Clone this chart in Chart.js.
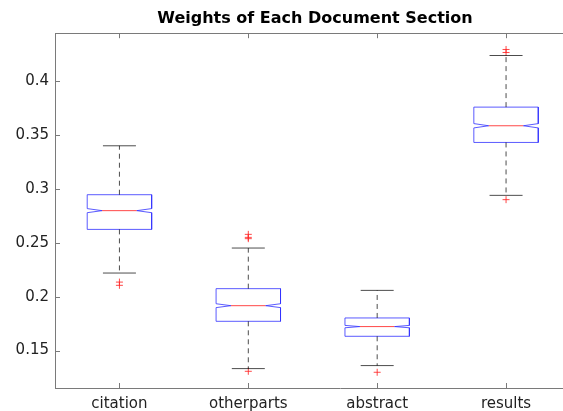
<!DOCTYPE html>
<html>
<head>
<meta charset="utf-8">
<script src="https://cdn.jsdelivr.net/npm/chart.js@4"></script>
<style>
  body { margin: 0; overflow: hidden; background: #fff; }
</style>
</head>
<body>
<canvas id="boxChart" width="630" height="411"></canvas>
<script>
// Box plot values
const categories = ["citation", "otherparts", "abstract", "results"];
const upperWhisker = [0.340, 0.2451, 0.2058, 0.4238];
const q3 = [0.2946, 0.2074, 0.1802, 0.3759];
const medians = [0.2798, 0.1916, 0.1722, 0.3586];
const q1 = [0.2624, 0.1771, 0.1632, 0.3431];
const lowerWhisker = [0.2219, 0.1332, 0.1360, 0.2940];
const notches = [0.0019, 0.0018, 0.0011, 0.0020];
const outliers = [
    [0.2135, 0.2105],
    [0.2578, 0.2550, 0.2538, 0.1307],
    [0.1298],
    [0.4294, 0.4266, 0.2900]
];
const yTicks = [0.15, 0.2, 0.25, 0.3, 0.35, 0.4];
const yTickLabels = ["0.15", "0.2", "0.25", "0.3", "0.35", "0.4"];

// shape of the boxes (in x units)
const boxHalf = 0.25;
const notchInner = 0.135;
const capHalf = 0.128;

const blue = "rgba(50,50,255,0.8)";
const red = "rgba(255,40,40,0.85)";
const whiskerColor = "rgba(0,0,0,0.7)";
const font = "'DejaVu Sans', sans-serif";

var datasets = [];

function segment(points, color, dash) {
    return {
        type: "scatter",
        data: points,
        showLine: true,
        borderColor: color,
        borderWidth: 1,
        borderDash: dash || [],
        pointRadius: 0,
        fill: false
    };
}

for (var i = 0; i < categories.length; i++) {
    let x = i + 1;
    let l = x - boxHalf, r = x + boxHalf;
    let m = medians[i], n = notches[i];

    // whiskers (dashed) and caps
    datasets.push(segment([{ x: x, y: q3[i] }, { x: x, y: upperWhisker[i] }], whiskerColor, [5, 4]));
    datasets.push(segment([{ x: x, y: q1[i] }, { x: x, y: lowerWhisker[i] }], whiskerColor, [5, 4]));
    datasets.push(segment([{ x: x - capHalf, y: upperWhisker[i] }, { x: x + capHalf, y: upperWhisker[i] }], whiskerColor));
    datasets.push(segment([{ x: x - capHalf, y: lowerWhisker[i] }, { x: x + capHalf, y: lowerWhisker[i] }], whiskerColor));

    // notched box outline
    datasets.push(segment([
        { x: l, y: q3[i] }, { x: r, y: q3[i] }, { x: r, y: m + n },
        { x: x + notchInner, y: m }, { x: r, y: m - n }, { x: r, y: q1[i] },
        { x: l, y: q1[i] }, { x: l, y: m - n }, { x: x - notchInner, y: m },
        { x: l, y: m + n }, { x: l, y: q3[i] }
    ], blue));

    // median
    datasets.push(segment([{ x: x - notchInner, y: m }, { x: x + notchInner, y: m }], red));
}

// outliers as red crosses
var outlierPoints = [];
outliers.forEach(function (list, i) {
    list.forEach(function (v) {
        outlierPoints.push({ x: i + 1, y: v });
    });
});
datasets.push({
    type: "scatter",
    data: outlierPoints,
    pointStyle: "cross",
    pointRadius: 3.5,
    borderColor: red,
    borderWidth: 1,
    backgroundColor: red
});

// top border and inward tick marks like the original
const frame = {
    id: "frame",
    afterDraw: function (chart) {
        let ctx = chart.ctx;
        let a = chart.chartArea;
        let xs = chart.scales.x, ys = chart.scales.y;
        ctx.save();
        ctx.strokeStyle = "#7a7a7a";
        ctx.lineWidth = 1;
        ctx.beginPath();
        ctx.moveTo(a.left, Math.round(a.top) + 0.5);
        ctx.lineTo(a.right, Math.round(a.top) + 0.5);
        for (let k = 1; k <= categories.length; k++) {
            let px = Math.round(xs.getPixelForValue(k)) + 0.5;
            ctx.moveTo(px, a.top);
            ctx.lineTo(px, a.top + 5);
            ctx.moveTo(px, a.bottom);
            ctx.lineTo(px, a.bottom - 5);
        }
        yTicks.forEach(function (v) {
            let py = Math.round(ys.getPixelForValue(v)) + 0.5;
            ctx.moveTo(a.left, py);
            ctx.lineTo(a.left + 5, py);
        });
        ctx.stroke();
        ctx.restore();
    }
};

new Chart("boxChart", {
    data: { datasets: datasets },
    options: {
        responsive: false,
        animation: false,
        layout: { padding: 0 },
        plugins: {
            legend: { display: false },
            tooltip: { enabled: false },
            title: {
                display: true,
                text: "Weights of Each Document Section",
                color: "#000",
                font: { family: font, size: 16, weight: "bold" },
                padding: { top: 9, bottom: 5 }
            }
        },
        scales: {
            x: {
                type: "linear",
                min: 0.5,
                max: 4.923,
                afterBuildTicks: function (axis) {
                    axis.ticks = categories.map(function (c, k) { return { value: k + 1 }; });
                },
                afterFit: function (scale) { scale.height = 23; },
                ticks: {
                    autoSkip: false,
                    maxRotation: 0,
                    padding: 7,
                    color: "#222",
                    font: { family: font, size: 15 },
                    callback: function (v) { return categories[v - 1]; }
                },
                grid: { display: false, drawTicks: false },
                border: { display: true, color: "#7a7a7a" }
            },
            y: {
                type: "linear",
                min: 0.1152,
                max: 0.4445,
                afterBuildTicks: function (axis) {
                    axis.ticks = yTicks.map(function (v) { return { value: v }; });
                },
                afterFit: function (scale) { scale.width = 55; },
                ticks: {
                    padding: 6,
                    color: "#222",
                    font: { family: font, size: 15 },
                    callback: function (v) { return yTickLabels[yTicks.indexOf(v)]; }
                },
                grid: { display: false, drawTicks: false },
                border: { display: true, color: "#7a7a7a" }
            }
        }
    },
    plugins: [frame]
});
</script>
</body>
</html>
